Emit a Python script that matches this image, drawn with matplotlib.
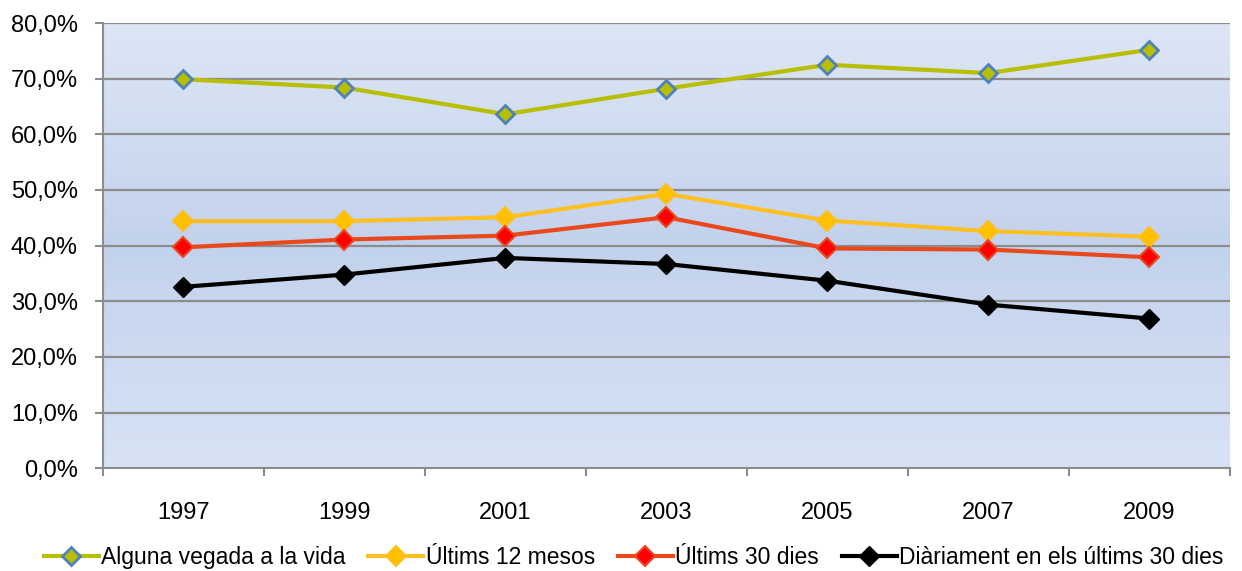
import matplotlib.pyplot as plt
import numpy as np
from matplotlib.colors import LinearSegmentedColormap

years = ['1997', '1999', '2001', '2003', '2005', '2007', '2009']
alguna_vegada = [69.9, 68.4, 63.6, 68.2, 72.5, 71.0, 75.2]
ultims_12 = [44.4, 44.4, 45.1, 49.3, 44.5, 42.6, 41.6]
ultims_30 = [39.7, 41.1, 41.8, 45.1, 39.5, 39.3, 37.9]
diariament = [32.6, 34.8, 37.8, 36.7, 33.7, 29.4, 26.9]

plt.rcParams['font.family'] = ['Liberation Sans', 'DejaVu Sans']

fig = plt.figure(figsize=(12.42, 5.71), dpi=100)
ax = fig.add_axes([0.0829, 0.1799, 0.9074, 0.7798])

x = np.arange(len(years))

# gradient background like the excel plot area
cmap = LinearSegmentedColormap.from_list('bg', ['#d7e2f4', '#c3d2ec', '#dde6f5'])
grad = np.linspace(0, 1, 256).reshape(-1, 1)
ax.imshow(grad, cmap=cmap, aspect='auto', extent=(-0.5, 6.5, 80, 0),
          zorder=0, interpolation='bicubic')

for yv in range(10, 90, 10):
    ax.axhline(yv, color='#8c8c8c', lw=1.6, zorder=1)

ax.plot(x, alguna_vegada, color='#b8be00', lw=3, marker='D', ms=9,
        mfc='#b8be00', mec='#4f81bd', mew=2, zorder=3, label='Alguna vegada a la vida')
ax.plot(x, ultims_12, color='#fdbf22', lw=3, marker='D', ms=10,
        mfc='#ffc000', mec='#fdbf22', mew=1.5, zorder=3, label='Últims 12 mesos')
ax.plot(x, ultims_30, color='#e8481b', lw=3, marker='D', ms=10,
        mfc='#ff0000', mec='#e8481b', mew=1.5, zorder=3, label='Últims 30 dies')
ax.plot(x, diariament, color='black', lw=3, marker='D', ms=10,
        mfc='black', mec='black', zorder=3, label='Diàriament en els últims 30 dies')

ax.set_xlim(-0.5, 6.5)
ax.set_ylim(0, 80)
ax.set_yticks(range(0, 90, 10))
ax.set_yticklabels(['%d,0%%' % v for v in range(0, 90, 10)])
ax.set_xticks(x)
ax.set_xticklabels(years)
ax.set_xticks(np.arange(-0.5, 7, 1), minor=True)
ax.tick_params(axis='x', which='major', length=0, pad=24, labelsize=17)
ax.tick_params(axis='x', which='minor', length=6, color='#8c8c8c', width=1.5)
ax.tick_params(axis='y', length=6, color='#8c8c8c', width=1.5, labelsize=17, pad=12)

for s in ['top', 'right']:
    ax.spines[s].set_visible(False)
for s in ['left', 'bottom']:
    ax.spines[s].set_color('#8c8c8c')
    ax.spines[s].set_linewidth(1.5)

fig.legend(loc='lower center', ncol=4, frameon=False, fontsize=16.5,
           bbox_to_anchor=(0.51, 0.0), handlelength=2.4, handletextpad=0.1,
           columnspacing=1.0, borderaxespad=0.0, borderpad=0.1)

plt.savefig('out.png', dpi=100)
